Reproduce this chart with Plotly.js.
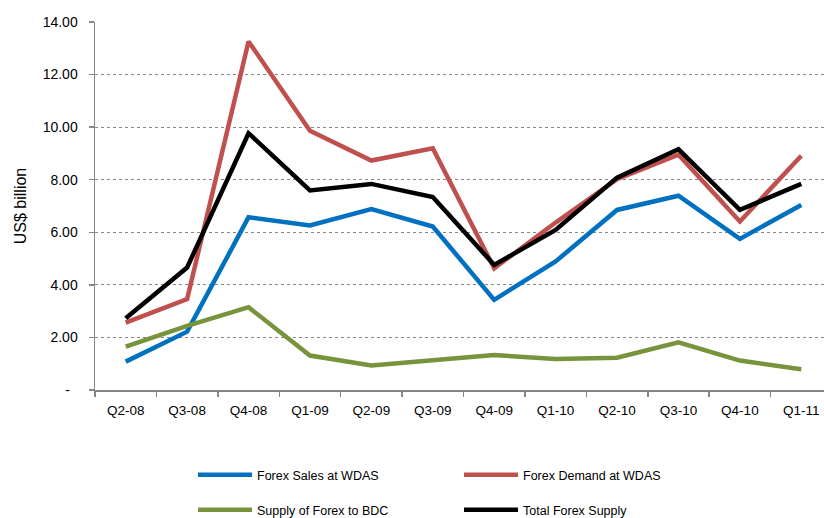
<!DOCTYPE html>
<html>
<head>
<meta charset="utf-8">
<script src="https://cdn.plot.ly/plotly-3.0.1.min.js"></script>
<style>
html, body { margin: 0; padding: 0; overflow: hidden; background: #fff; }
#chart { width: 840px; height: 518px; }
</style>
</head>
<body>
<div id="chart"></div>
<script>
const quarters = ["Q2-08","Q3-08","Q4-08","Q1-09","Q2-09","Q3-09","Q4-09","Q1-10","Q2-10","Q3-10","Q4-10","Q1-11"];
const forexSalesWDAS = [1.08, 2.22, 6.57, 6.26, 6.88, 6.22, 3.43, 4.89, 6.85, 7.39, 5.75, 7.04];
const forexDemandWDAS = [2.56, 3.46, 13.26, 9.86, 8.73, 9.20, 4.63, 6.37, 8.02, 8.95, 6.41, 8.91];
const supplyToBDC = [1.65, 2.44, 3.15, 1.31, 0.93, 1.12, 1.33, 1.18, 1.23, 1.81, 1.12, 0.79];
const totalSupply = [2.73, 4.66, 9.77, 7.59, 7.84, 7.34, 4.76, 6.09, 8.08, 9.16, 6.85, 7.84];
const yTickVals = [0, 2, 4, 6, 8, 10, 12, 14];
const yTickText = ["-\u00a0\u00a0", "2.00", "4.00", "6.00", "8.00", "10.00", "12.00", "14.00"];

const font = "Liberation Sans, Arial, sans-serif";
function line(name, y, color, legend) {
  return { type: "scatter", mode: "lines", name: name, x: quarters, y: y,
           line: { color: color, width: 4.5 }, legend: legend, hoverinfo: "skip" };
}
const traces = [
  line("Forex Sales at WDAS", forexSalesWDAS, "#0070C0", "legend"),
  line("Forex Demand at WDAS", forexDemandWDAS, "#C0504D", "legend"),
  line("Supply of Forex to BDC", supplyToBDC, "#77933C", "legend2"),
  line("Total Forex Supply", totalSupply, "#000000", "legend2")
];
const legendBase = {
  orientation: "h", x: 0.133, xanchor: "left", yanchor: "middle", yref: "container",
  entrywidth: 197, entrywidthmode: "pixels", itemwidth: 54,
  font: { family: font, size: 12.5, color: "#000" },
  bgcolor: "rgba(0,0,0,0)", traceorder: "normal"
};
const layout = {
  width: 840, height: 518,
  margin: { l: 95, r: 8, t: 22, b: 128 },
  paper_bgcolor: "#fff", plot_bgcolor: "#fff",
  font: { family: font, size: 13, color: "#000" },
  showlegend: true,
  xaxis: {
    type: "category", tickson: "boundaries", ticks: "outside", ticklen: 5,
    tickcolor: "#868686", tickwidth: 1.5, showline: true, linecolor: "#868686", linewidth: 1.5,
    showgrid: false, zeroline: false, tickfont: { family: font, size: 13.5 },
    ticklabelstandoff: 7,
    range: [-0.5, 11.5], fixedrange: true, automargin: false
  },
  yaxis: {
    range: [0, 14], tickmode: "array", tickvals: yTickVals, ticktext: yTickText,
    ticks: "outside", ticklen: 5, tickcolor: "#868686", tickwidth: 1.5,
    showline: true, linecolor: "#868686", linewidth: 1.5,
    showgrid: true, gridcolor: "#868686", griddash: "dot", gridwidth: 1.2,
    zeroline: false, tickfont: { family: font, size: 14 },
    ticklabelstandoff: 8,
    title: { text: "US$ billion", font: { family: font, size: 16 }, standoff: 12 },
    fixedrange: true, automargin: false
  },
  legend: Object.assign({}, legendBase, { y: (518 - 475) / 518 }),
  legend2: Object.assign({}, legendBase, { y: (518 - 510) / 518 })
};
Plotly.newPlot("chart", traces, layout, { displayModeBar: false, staticPlot: true });
</script>
</body>
</html>
